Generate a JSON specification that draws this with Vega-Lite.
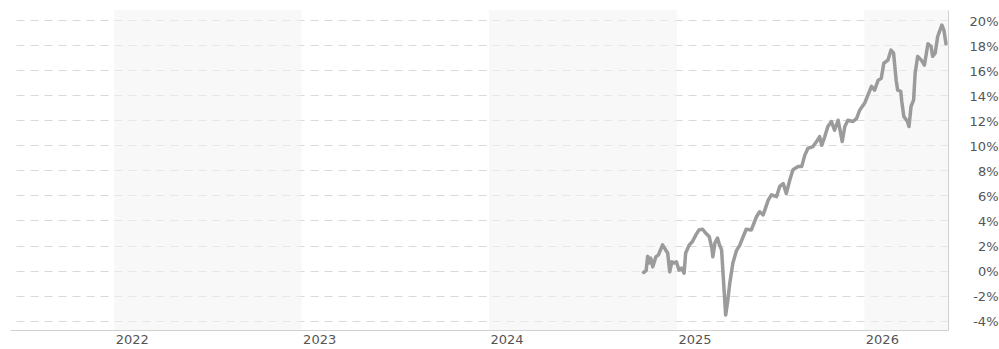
{
  "$schema": "https://vega.github.io/schema/vega-lite/v6.json",
  "width": 938,
  "height": 320,
  "autosize": {"type": "none"},
  "padding": {"left": 10, "top": 10, "right": 51, "bottom": 19},
  "background": "white",
  "config": {
    "view": {"stroke": null},
    "axis": {
      "labelFont": "DejaVu Sans",
      "labelFontSize": 13,
      "labelColor": "#555555",
      "domainColor": "#d0d0d0",
      "domainWidth": 1,
      "ticks": false,
      "title": null
    }
  },
  "datasets": {
    "bands": [
      {"start": "2022-01-01", "end": "2023-01-01"},
      {"start": "2024-01-01", "end": "2025-01-01"},
      {"start": "2026-01-01", "end": "2026-06-13"}
    ],
    "series": [
      {"date": "2024-10-28", "value": -0.15},
      {"date": "2024-11-02", "value": 0.0},
      {"date": "2024-11-05", "value": 1.15},
      {"date": "2024-11-08", "value": 0.6},
      {"date": "2024-11-11", "value": 1.0},
      {"date": "2024-11-15", "value": 0.3},
      {"date": "2024-11-21", "value": 1.1},
      {"date": "2024-11-26", "value": 1.25},
      {"date": "2024-12-04", "value": 2.05},
      {"date": "2024-12-10", "value": 1.65},
      {"date": "2024-12-14", "value": 1.4},
      {"date": "2024-12-18", "value": -0.1},
      {"date": "2024-12-22", "value": 0.7},
      {"date": "2024-12-27", "value": 0.6},
      {"date": "2024-12-31", "value": 0.7},
      {"date": "2025-01-05", "value": 0.05},
      {"date": "2025-01-10", "value": 0.2},
      {"date": "2025-01-15", "value": -0.2},
      {"date": "2025-01-18", "value": 1.4},
      {"date": "2025-01-25", "value": 2.05},
      {"date": "2025-01-31", "value": 2.3},
      {"date": "2025-02-07", "value": 2.85},
      {"date": "2025-02-13", "value": 3.25},
      {"date": "2025-02-20", "value": 3.3},
      {"date": "2025-02-26", "value": 3.0},
      {"date": "2025-03-05", "value": 2.7},
      {"date": "2025-03-10", "value": 1.8},
      {"date": "2025-03-12", "value": 1.1},
      {"date": "2025-03-16", "value": 2.2},
      {"date": "2025-03-21", "value": 2.6},
      {"date": "2025-03-25", "value": 2.05},
      {"date": "2025-03-29", "value": 1.65},
      {"date": "2025-04-02", "value": -1.0},
      {"date": "2025-04-06", "value": -3.55},
      {"date": "2025-04-10", "value": -2.4},
      {"date": "2025-04-14", "value": -1.0},
      {"date": "2025-04-20", "value": 0.6},
      {"date": "2025-04-27", "value": 1.6},
      {"date": "2025-05-03", "value": 2.0},
      {"date": "2025-05-10", "value": 2.7},
      {"date": "2025-05-16", "value": 3.3},
      {"date": "2025-05-26", "value": 3.25},
      {"date": "2025-06-05", "value": 4.3},
      {"date": "2025-06-11", "value": 4.7},
      {"date": "2025-06-18", "value": 4.45},
      {"date": "2025-06-28", "value": 5.65},
      {"date": "2025-07-04", "value": 6.05},
      {"date": "2025-07-14", "value": 5.9},
      {"date": "2025-07-20", "value": 6.7},
      {"date": "2025-07-27", "value": 6.95},
      {"date": "2025-08-02", "value": 6.15},
      {"date": "2025-08-09", "value": 7.25},
      {"date": "2025-08-15", "value": 8.05},
      {"date": "2025-08-25", "value": 8.3},
      {"date": "2025-09-01", "value": 8.3},
      {"date": "2025-09-07", "value": 9.2},
      {"date": "2025-09-13", "value": 9.75},
      {"date": "2025-09-23", "value": 9.9},
      {"date": "2025-09-30", "value": 10.3},
      {"date": "2025-10-06", "value": 10.7},
      {"date": "2025-10-10", "value": 10.0},
      {"date": "2025-10-16", "value": 10.7},
      {"date": "2025-10-22", "value": 11.5},
      {"date": "2025-10-29", "value": 11.9},
      {"date": "2025-11-04", "value": 11.2},
      {"date": "2025-11-11", "value": 12.0},
      {"date": "2025-11-19", "value": 10.3},
      {"date": "2025-11-24", "value": 11.5},
      {"date": "2025-11-30", "value": 12.0},
      {"date": "2025-12-10", "value": 11.9},
      {"date": "2025-12-17", "value": 12.15},
      {"date": "2025-12-23", "value": 12.8},
      {"date": "2026-01-02", "value": 13.4},
      {"date": "2026-01-08", "value": 14.0},
      {"date": "2026-01-15", "value": 14.7},
      {"date": "2026-01-21", "value": 14.4},
      {"date": "2026-01-28", "value": 15.2},
      {"date": "2026-02-03", "value": 15.35},
      {"date": "2026-02-08", "value": 16.55},
      {"date": "2026-02-16", "value": 16.8},
      {"date": "2026-02-22", "value": 17.6},
      {"date": "2026-02-27", "value": 17.35},
      {"date": "2026-03-04", "value": 15.2},
      {"date": "2026-03-07", "value": 14.4},
      {"date": "2026-03-13", "value": 14.3},
      {"date": "2026-03-15", "value": 13.5},
      {"date": "2026-03-19", "value": 12.3},
      {"date": "2026-03-26", "value": 11.9},
      {"date": "2026-03-29", "value": 11.5},
      {"date": "2026-04-02", "value": 13.1},
      {"date": "2026-04-07", "value": 13.6},
      {"date": "2026-04-10", "value": 15.75},
      {"date": "2026-04-15", "value": 17.1},
      {"date": "2026-04-22", "value": 16.8},
      {"date": "2026-04-28", "value": 16.4},
      {"date": "2026-05-05", "value": 18.1},
      {"date": "2026-05-11", "value": 17.9},
      {"date": "2026-05-14", "value": 17.1},
      {"date": "2026-05-19", "value": 17.35},
      {"date": "2026-05-24", "value": 18.7},
      {"date": "2026-06-01", "value": 19.6},
      {"date": "2026-06-05", "value": 19.2},
      {"date": "2026-06-09", "value": 18.1}
    ]
  },
  "layer": [
    {
      "data": {"name": "bands"},
      "mark": {"type": "rect", "color": "#f2f2f2", "opacity": 0.55, "clip": true},
      "encoding": {
        "x": {
          "field": "start",
          "type": "temporal",
          "scale": {
            "type": "utc",
            "domain": [
              {"year": 2021, "month": 6, "date": 12, "utc": true},
              {"year": 2026, "month": 6, "date": 13, "utc": true}
            ]
          },
          "axis": {
            "values": [
              {"year": 2022, "month": 1, "date": 1, "utc": true},
              {"year": 2023, "month": 1, "date": 1, "utc": true},
              {"year": 2024, "month": 1, "date": 1, "utc": true},
              {"year": 2025, "month": 1, "date": 1, "utc": true},
              {"year": 2026, "month": 1, "date": 1, "utc": true}
            ],
            "format": "%Y",
            "labelAlign": "left",
            "labelBaseline": "top",
            "labelPadding": 3,
            "labelOffset": 1,
            "grid": false
          }
        },
        "x2": {"field": "end"}
      }
    },
    {
      "data": {"name": "series"},
      "mark": {"type": "line", "color": "#9b9b9b", "strokeWidth": 3.5, "strokeJoin": "round", "strokeCap": "round"},
      "encoding": {
        "x": {"field": "date", "type": "temporal"},
        "y": {
          "field": "value",
          "type": "quantitative",
          "scale": {"domain": [-4.74, 20.8], "nice": false, "zero": false},
          "axis": {
            "orient": "right",
            "values": [-4, -2, 0, 2, 4, 6, 8, 10, 12, 14, 16, 18, 20],
            "labelExpr": "datum.value + '%'",
            "labelAlign": "right",
            "labelPadding": 50,
            "labelOffset": 1,
            "grid": true,
            "gridColor": "#d9d9d9",
            "gridDash": [8, 6],
            "gridWidth": 1
          }
        }
      }
    }
  ]
}
